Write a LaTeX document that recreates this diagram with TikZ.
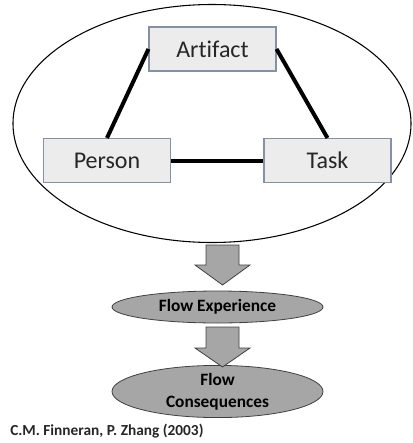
\documentclass[tikz,border=0pt]{standalone}
\usepackage{fontspec}
\setmainfont{Carlito}[Ligatures=CommonOff]
\usepackage{xcolor}
\usetikzlibrary{shapes.geometric}

\definecolor{boxfill}{RGB}{236,236,236}
\definecolor{boxline}{RGB}{132,145,165}
\definecolor{flowfill}{RGB}{166,166,166}
\definecolor{flowline}{RGB}{64,64,64}

\tikzset{
	factorbox/.style={rectangle, minimum height=33pt, minimum width=95.25pt, fill=boxfill, draw=boxline, line width=0.8pt, font=\fontsize{18}{20}\selectfont, text=black!85},
	flowstage/.style={ellipse, minimum width=158.25pt, fill=flowfill, draw=flowline, line width=0.6pt, font=\fontsize{13}{16.5}\selectfont\bfseries, align=center, inner sep=0pt},
	link/.style={line width=3pt, black},
	blockarrow/.style={fill=flowfill, draw=flowline, line width=0.6pt, line join=miter}
}

\begin{document}
\begin{tikzpicture}[x=0.75pt, y=-0.75pt]
	\useasboundingbox (0,0) rectangle (412,443);
	\node[ellipse, minimum width=298.5pt, minimum height=178.5pt, draw=black, line width=0.8pt] at (212,123.5)(context){};
	\node[factorbox] at (212.5,49   )(artifact){Artifact};
	\node[factorbox] at (107  ,160.5)(person){Person};
	\node[factorbox] at (327.5,160.5)(task){Task};
	\draw[link](artifact.west) -- (person.north);
	\draw[link](artifact.east) -- (task.north);
	\draw[link](person.east) -- (task.west);
	\node[flowstage, minimum height=24pt  ] at (217.5,307  )(experience){Flow Experience};
	\node[flowstage, minimum height=32.25pt] at (217.5,391.5)(consequences){Flow\\Consequences};
	% block arrows between the stages
	\draw[blockarrow] (206,245) -- (239,245) -- (239,265) -- (250,265) -- (222.5,285) -- (195,265) -- (206,265) -- cycle;
	\draw[blockarrow] (206,327) -- (239,327) -- (239,348) -- (250,348) -- (222.5,367) -- (195,348) -- (206,348) -- cycle;
	\node[anchor=west, font=\fontsize{11.5}{14}\selectfont\bfseries, text=black!85, inner sep=0pt] at (10,431)(source){C.M. Finneran, P. Zhang (2003)};
\end{tikzpicture}
\end{document}
